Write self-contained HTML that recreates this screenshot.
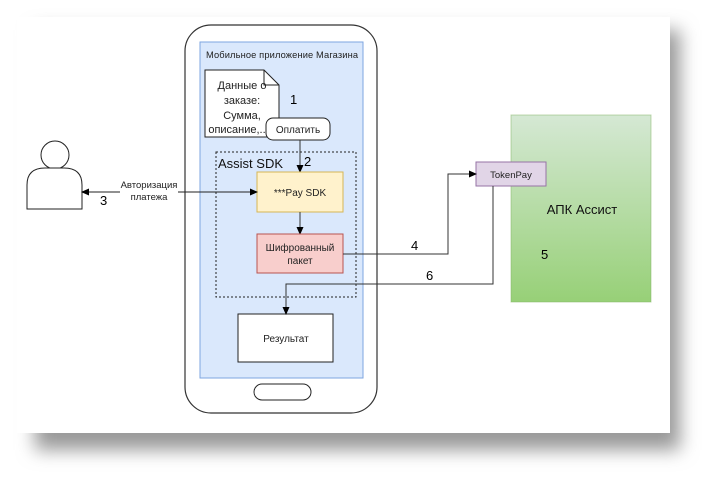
<!DOCTYPE html>
<html><head><meta charset="utf-8"><style>
html,body{margin:0;padding:0;background:#fff;}
body{width:718px;height:481px;overflow:hidden;position:relative;font-family:"Liberation Sans",sans-serif;}
</style></head><body>
<svg width="718" height="481" xmlns="http://www.w3.org/2000/svg" font-family="Liberation Sans, sans-serif">
<defs>
<linearGradient id="g" x1="0" y1="0" x2="0" y2="1"><stop offset="0" stop-color="#d5e8d4"/><stop offset="1" stop-color="#97d077"/></linearGradient>
<filter id="sh" x="-10%" y="-10%" width="125%" height="130%"><feGaussianBlur stdDeviation="9"/></filter>
<marker id="a" markerWidth="8" markerHeight="8" refX="7" refY="4" orient="auto" markerUnits="userSpaceOnUse"><path d="M0,0.5 L8,4 L0,7.5 Z" fill="#000"/></marker>
</defs>
<rect x="35" y="30" width="645" height="420" fill="#999" filter="url(#sh)"/>
<rect x="17" y="17" width="653" height="416" fill="#fff"/>
<!-- phone -->
<rect x="185" y="25" width="192" height="388" rx="26" fill="#fff" stroke="#333" stroke-width="1.2"/>
<rect x="200" y="42" width="163" height="336" fill="#dae8fc" stroke="#7ea6e0"/>
<text x="206" y="58" font-size="9.3" fill="#222" textLength="152">Мобильное приложение Магазина</text>
<path d="M205,70 H264 L279,85 V137 H205 Z" fill="#fff" stroke="#222"/>
<path d="M264,70 V85 H279" fill="none" stroke="#222"/>
<g font-size="11" fill="#222" text-anchor="middle"><text x="242" y="89">Данные о</text><text x="242" y="104">заказе:</text><text x="242" y="119">Сумма,</text><text x="237" y="133">описание,..</text></g>
<text x="290" y="104" font-size="13">1</text>
<rect x="266" y="118" width="64" height="22" rx="7" fill="#fff" stroke="#222"/>
<text x="298" y="133" font-size="10" text-anchor="middle" fill="#222">Оплатить</text>
<rect x="216" y="152" width="140" height="145" fill="none" stroke="#222" stroke-dasharray="2,2"/>
<text x="218" y="168" font-size="13" fill="#111">Assist SDK</text>
<line x1="300" y1="140" x2="300" y2="172" stroke="#333" marker-end="url(#a)"/>
<text x="304" y="166" font-size="13">2</text>
<rect x="257" y="172" width="86" height="40" fill="#fff2cc" stroke="#d6b656"/>
<text x="300" y="196" font-size="10" text-anchor="middle" fill="#222">***Pay SDK</text>
<line x1="300" y1="212" x2="300" y2="234" stroke="#333" marker-end="url(#a)"/>
<rect x="257" y="234" width="86" height="39" fill="#f8cecc" stroke="#b85450"/>
<g font-size="10" text-anchor="middle" fill="#222"><text x="300" y="251">Шифрованный</text><text x="300" y="264">пакет</text></g>
<rect x="238" y="314" width="95" height="48" fill="#fff" stroke="#222"/>
<text x="286" y="342" font-size="10" text-anchor="middle" fill="#222">Результат</text>
<rect x="254" y="384" width="57" height="16" rx="8" fill="#fff" stroke="#222"/>
<circle cx="55" cy="155" r="14" fill="#fff" stroke="#222"/>
<path d="M27,209 V185 Q27,168 45,168 H64 Q82,168 82,185 V209 Z" fill="#fff" stroke="#222"/>
<line x1="120" y1="192" x2="82" y2="192" stroke="#222" marker-end="url(#a)"/>
<line x1="178" y1="192" x2="257" y2="192" stroke="#222" marker-end="url(#a)"/>
<g font-size="9.5" text-anchor="middle" fill="#222"><text x="149" y="188">Авторизация</text><text x="149" y="200">платежа</text></g>
<text x="100" y="205" font-size="13">3</text>
<rect x="511" y="115" width="140" height="187" fill="url(#g)" stroke="#82b366" stroke-opacity="0.5"/>
<text x="582" y="214" font-size="13" text-anchor="middle" fill="#111">АПК Ассист</text>
<text x="541" y="259" font-size="13">5</text>
<rect x="476" y="162" width="70" height="24" fill="#e1d5e7" stroke="#9673a6"/>
<text x="511" y="178" font-size="9.5" text-anchor="middle" fill="#222">TokenPay</text>
<polyline points="343,254 448,254 448,174 476,174" fill="none" stroke="#333" marker-end="url(#a)"/>
<text x="411" y="250" font-size="13">4</text>
<polyline points="493,186 493,284 286,284 286,314" fill="none" stroke="#333" marker-end="url(#a)"/>
<text x="426" y="280" font-size="13">6</text>
</svg>
</body></html>
